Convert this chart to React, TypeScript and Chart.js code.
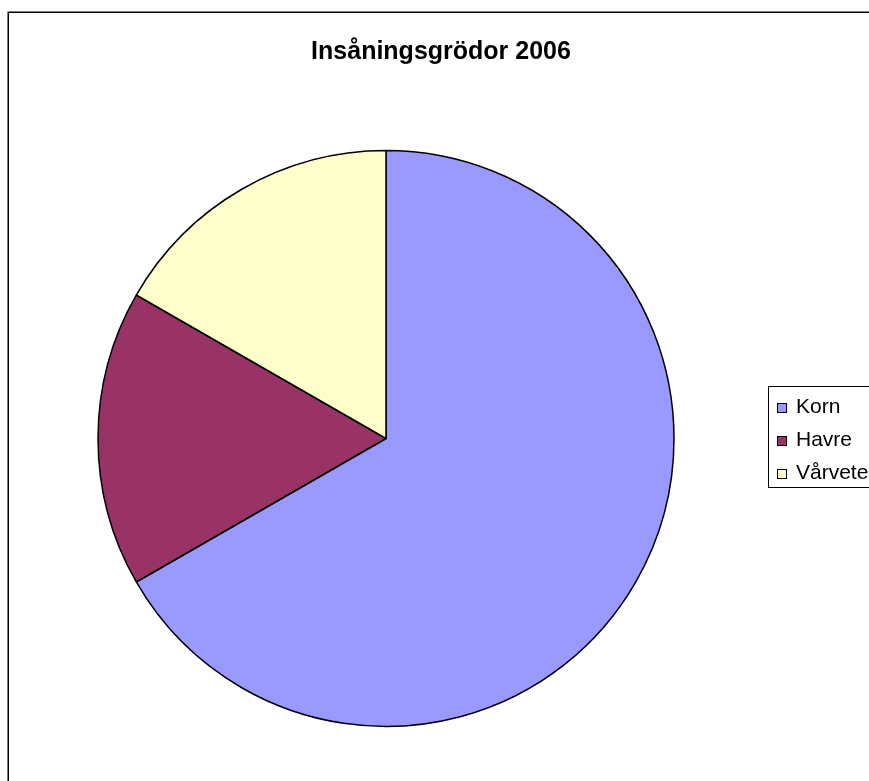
import React, { useEffect, useRef } from "react";
import { Chart, registerables } from "chart.js";

Chart.register(...registerables);

const title = "Insåningsgrödor 2006";
const categories = ["Korn", "Havre", "Vårvete"];
const values = [66.7, 16.6, 16.7];
const colors = ["#9999FF", "#993366", "#FFFFCC"];

const W = 869;
const H = 781;

const framePlugin = {
  id: "frameAndLegend",
  afterDraw(chart: any) {
    const ctx = chart.ctx;
    ctx.save();
    // outer chart frame
    ctx.strokeStyle = "#000";
    ctx.lineWidth = 1.5;
    ctx.strokeRect(8.25, 12.25, W + 20, H + 20);
    // title
    ctx.fillStyle = "#000";
    ctx.font = "bold 25px Arial, 'Liberation Sans', sans-serif";
    ctx.textAlign = "center";
    ctx.textBaseline = "alphabetic";
    ctx.fillText(title, 441, 59);
    // legend box
    ctx.lineWidth = 1;
    ctx.strokeRect(768.5, 386.5, 140, 101);
    const labels = chart.data.labels as string[];
    const bg = chart.data.datasets[0].backgroundColor as string[];
    ctx.font = "21px Arial, 'Liberation Sans', sans-serif";
    ctx.textBaseline = "alphabetic";
    ctx.textAlign = "left";
    labels.forEach((lab, i) => {
      const y = 403 + i * 33;
      ctx.fillStyle = bg[i];
      ctx.fillRect(777, y, 10, 10);
      ctx.strokeStyle = "#000";
      ctx.strokeRect(777.5, y + 0.5, 9, 9);
      ctx.fillStyle = "#000";
      ctx.fillText(lab, 796, y + 10);
    });
    ctx.restore();
  },
};

export default function App() {
  const ref = useRef<HTMLCanvasElement | null>(null);
  useEffect(() => {
    if (!ref.current) return;
    const chart = new Chart(ref.current, {
      type: "pie",
      data: {
        labels: categories,
        datasets: [
          {
            data: values,
            backgroundColor: colors,
            borderColor: "#000",
            borderWidth: 1.5,
          },
        ],
      },
      options: {
        responsive: false,
        animation: false,
        radius: 288,
        layout: { padding: { left: 86, right: 183, top: 140, bottom: 44 } },
        plugins: {
          legend: { display: false },
          tooltip: { enabled: false },
          title: { display: false },
        },
      } as any,
      plugins: [framePlugin],
    });
    return () => chart.destroy();
  }, []);
  return (
    <div style={{ position: "absolute", left: 0, top: 0, width: W, height: H, background: "#fff" }}>
      <canvas ref={ref} width={W} height={H} style={{ display: "block" }} />
    </div>
  );
}
